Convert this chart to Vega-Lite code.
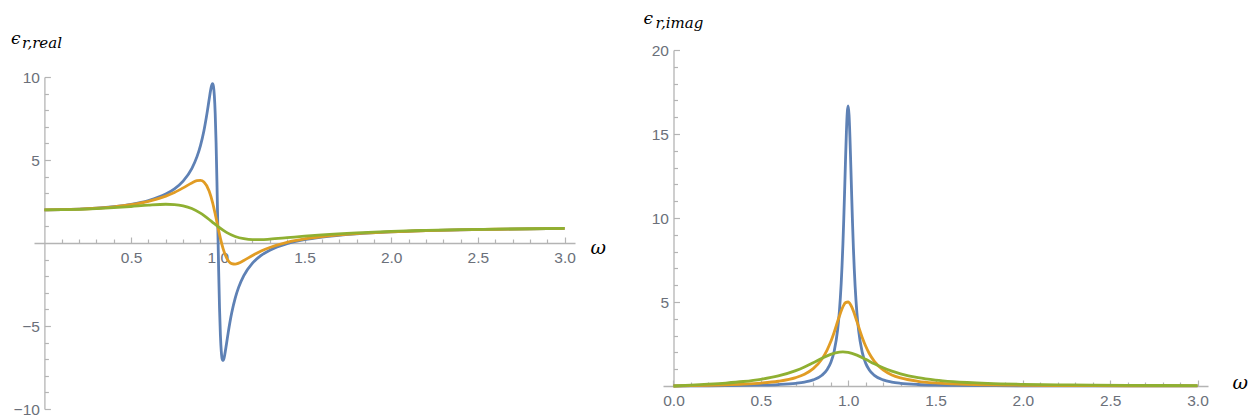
{
  "$schema": "https://vega.github.io/schema/vega-lite/v6.json",
  "background": "white",
  "padding": {"left": 10, "top": 9, "right": 0, "bottom": 0},
  "spacing": 88,
  "bounds": "flush",
  "config": {
    "view": {"stroke": null},
    "axis": {
      "grid": false,
      "domainColor": "#b4b4b4",
      "tickColor": "#b4b4b4",
      "domainWidth": 1.3,
      "tickWidth": 1.2,
      "labelFont": "Liberation Sans",
      "labelFontSize": 15.5,
      "labelColor": "#6b707a",
      "labelFlush": false,
      "labelOverlap": false,
      "titleFont": "DejaVu Serif",
      "titleFontStyle": "italic",
      "titleFontWeight": "normal",
      "titleColor": "#000000"
    }
  },
  "data": {
    "values": [
      {"w": 0, "s": "a", "re": 2, "im": 0},
      {"w": 0.1, "s": "a", "re": 2.0101, "im": 0.0061},
      {"w": 0.2, "s": "a", "re": 2.0415, "im": 0.013},
      {"w": 0.3, "s": "a", "re": 2.0985, "im": 0.0217},
      {"w": 0.4, "s": "a", "re": 2.1895, "im": 0.034},
      {"w": 0.5, "s": "a", "re": 2.3312, "im": 0.0532},
      {"w": 0.6, "s": "a", "re": 2.5576, "im": 0.0876},
      {"w": 0.7, "s": "a", "re": 2.9476, "im": 0.1604},
      {"w": 0.75, "s": "a", "re": 3.2617, "im": 0.2326},
      {"w": 0.8, "s": "a", "re": 3.7293, "im": 0.3639},
      {"w": 0.85, "s": "a", "re": 4.4857, "im": 0.6406},
      {"w": 0.88, "s": "a", "re": 5.2025, "im": 0.9836},
      {"w": 0.9, "s": "a", "re": 5.8698, "im": 1.384},
      {"w": 0.92, "s": "a", "re": 6.7658, "im": 2.0721},
      {"w": 0.94, "s": "a", "re": 7.9576, "im": 3.3712},
      {"w": 0.95, "s": "a", "re": 8.644, "im": 4.4688},
      {"w": 0.96, "s": "a", "re": 9.2837, "im": 6.086},
      {"w": 0.965, "s": "a", "re": 9.5092, "im": 7.1637},
      {"w": 0.97, "s": "a", "re": 9.5926, "im": 8.459},
      {"w": 0.975, "s": "a", "re": 9.4255, "im": 9.9826},
      {"w": 0.98, "s": "a", "re": 8.8797, "im": 11.7},
      {"w": 0.985, "s": "a", "re": 7.7989, "im": 13.495},
      {"w": 0.99, "s": "a", "re": 6.0708, "im": 15.136},
      {"w": 0.995, "s": "a", "re": 3.7227, "im": 16.295},
      {"w": 1.0, "s": "a", "re": 1, "im": 16.667},
      {"w": 1.005, "s": "a", "re": -1.6829, "im": 16.138},
      {"w": 1.01, "s": "a", "re": -3.9308, "im": 14.866},
      {"w": 1.015, "s": "a", "re": -5.5388, "im": 13.175},
      {"w": 1.02, "s": "a", "re": -6.5126, "im": 11.38},
      {"w": 1.025, "s": "a", "re": -6.9784, "im": 9.6924},
      {"w": 1.03, "s": "a", "re": -7.0898, "im": 8.209},
      {"w": 1.035, "s": "a", "re": -6.9765, "im": 6.9546},
      {"w": 1.04, "s": "a", "re": -6.7328, "im": 5.9133},
      {"w": 1.05, "s": "a", "re": -6.0812, "im": 4.3523},
      {"w": 1.06, "s": "a", "re": -5.3969, "im": 3.2916},
      {"w": 1.08, "s": "a", "re": -4.2183, "im": 2.0321},
      {"w": 1.1, "s": "a", "re": -3.3338, "im": 1.3621},
      {"w": 1.12, "s": "a", "re": -2.6745, "im": 0.9706},
      {"w": 1.15, "s": "a", "re": -1.965, "im": 0.6344},
      {"w": 1.2, "s": "a", "re": -1.2135, "im": 0.3622},
      {"w": 1.25, "s": "a", "re": -0.7467, "im": 0.2329},
      {"w": 1.3, "s": "a", "re": -0.431, "im": 0.1618},
      {"w": 1.4, "s": "a", "re": -0.0338, "im": 0.0905},
      {"w": 1.5, "s": "a", "re": 0.2041, "im": 0.0573},
      {"w": 1.6, "s": "a", "re": 0.3614, "im": 0.0393},
      {"w": 1.8, "s": "a", "re": 0.5546, "im": 0.0215},
      {"w": 2.0, "s": "a", "re": 0.6672, "im": 0.0133},
      {"w": 2.2, "s": "a", "re": 0.7399, "im": 0.0089},
      {"w": 2.4, "s": "a", "re": 0.7901, "im": 0.0063},
      {"w": 2.6, "s": "a", "re": 0.8265, "im": 0.0047},
      {"w": 2.8, "s": "a", "re": 0.8539, "im": 0.0036},
      {"w": 3.0, "s": "a", "re": 0.8751, "im": 0.0028},

      {"w": 0, "s": "b", "re": 2, "im": 0},
      {"w": 0.1, "s": "b", "re": 2.0097, "im": 0.0204},
      {"w": 0.2, "s": "b", "re": 2.0399, "im": 0.0433},
      {"w": 0.3, "s": "b", "re": 2.0942, "im": 0.0721},
      {"w": 0.4, "s": "b", "re": 2.1798, "im": 0.1124},
      {"w": 0.5, "s": "b", "re": 2.31, "im": 0.1747},
      {"w": 0.6, "s": "b", "re": 2.5094, "im": 0.283},
      {"w": 0.7, "s": "b", "re": 2.8234, "im": 0.5005},
      {"w": 0.75, "s": "b", "re": 3.0453, "im": 0.7012},
      {"w": 0.8, "s": "b", "re": 3.3196, "im": 1.0309},
      {"w": 0.85, "s": "b", "re": 3.6202, "im": 1.6051},
      {"w": 0.88, "s": "b", "re": 3.7556, "im": 2.1497},
      {"w": 0.9, "s": "b", "re": 3.7737, "im": 2.6277},
      {"w": 0.92, "s": "b", "re": 3.6737, "im": 3.2029},
      {"w": 0.95, "s": "b", "re": 3.1379, "im": 4.1661},
      {"w": 0.97, "s": "b", "re": 2.437, "im": 4.7169},
      {"w": 0.985, "s": "b", "re": 1.7501, "im": 4.9628},
      {"w": 1.0, "s": "b", "re": 1, "im": 5},
      {"w": 1.015, "s": "b", "re": 0.2824, "im": 4.8193},
      {"w": 1.03, "s": "b", "re": -0.3198, "im": 4.4642},
      {"w": 1.05, "s": "b", "re": -0.8771, "im": 3.8457},
      {"w": 1.08, "s": "b", "re": -1.2382, "im": 2.9054},
      {"w": 1.1, "s": "b", "re": -1.2703, "im": 2.3784},
      {"w": 1.12, "s": "b", "re": -1.2142, "im": 1.9496},
      {"w": 1.15, "s": "b", "re": -1.0553, "im": 1.4658},
      {"w": 1.2, "s": "b", "re": -0.7516, "im": 0.9554},
      {"w": 1.25, "s": "b", "re": -0.4845, "im": 0.6598},
      {"w": 1.3, "s": "b", "re": -0.2691, "im": 0.4782},
      {"w": 1.4, "s": "b", "re": 0.04, "im": 0.28},
      {"w": 1.5, "s": "b", "re": 0.2436, "im": 0.1815},
      {"w": 1.6, "s": "b", "re": 0.3849, "im": 0.1262},
      {"w": 1.8, "s": "b", "re": 0.5648, "im": 0.0699},
      {"w": 2.0, "s": "b", "re": 0.6725, "im": 0.0437},
      {"w": 2.2, "s": "b", "re": 0.743, "im": 0.0295},
      {"w": 2.4, "s": "b", "re": 0.792, "im": 0.021},
      {"w": 2.6, "s": "b", "re": 0.8278, "im": 0.0155},
      {"w": 2.8, "s": "b", "re": 0.8548, "im": 0.0119},
      {"w": 3.0, "s": "b", "re": 0.8757, "im": 0.0093},

      {"w": 0, "s": "c", "re": 2, "im": 0},
      {"w": 0.1, "s": "c", "re": 2.0075, "im": 0.0509},
      {"w": 0.2, "s": "c", "re": 2.0305, "im": 0.1073},
      {"w": 0.3, "s": "c", "re": 2.0698, "im": 0.1763},
      {"w": 0.4, "s": "c", "re": 2.1266, "im": 0.2682},
      {"w": 0.5, "s": "c", "re": 2.2, "im": 0.4},
      {"w": 0.6, "s": "c", "re": 2.281, "im": 0.6005},
      {"w": 0.7, "s": "c", "re": 2.333, "im": 0.9148},
      {"w": 0.75, "s": "c", "re": 2.3177, "im": 1.1294},
      {"w": 0.8, "s": "c", "re": 2.2431, "im": 1.3812},
      {"w": 0.85, "s": "c", "re": 2.0771, "im": 1.6496},
      {"w": 0.9, "s": "c", "re": 1.7963, "im": 1.886},
      {"w": 0.95, "s": "c", "re": 1.4147, "im": 2.0202},
      {"w": 0.97, "s": "c", "re": 1.2476, "im": 2.0317},
      {"w": 1.0, "s": "c", "re": 1, "im": 2},
      {"w": 1.05, "s": "c", "re": 0.6418, "im": 1.8348},
      {"w": 1.1, "s": "c", "re": 0.3941, "im": 1.5869},
      {"w": 1.15, "s": "c", "re": 0.258, "im": 1.3229},
      {"w": 1.2, "s": "c", "re": 0.2052, "im": 1.0838},
      {"w": 1.25, "s": "c", "re": 0.2044, "im": 0.884},
      {"w": 1.3, "s": "c", "re": 0.2321, "im": 0.7233},
      {"w": 1.4, "s": "c", "re": 0.3199, "im": 0.4959},
      {"w": 1.5, "s": "c", "re": 0.4118, "im": 0.3529},
      {"w": 1.6, "s": "c", "re": 0.4924, "im": 0.2603},
      {"w": 1.8, "s": "c", "re": 0.6156, "im": 0.1544},
      {"w": 2.0, "s": "c", "re": 0.7, "im": 0.1},
      {"w": 2.2, "s": "c", "re": 0.7593, "im": 0.0689},
      {"w": 2.4, "s": "c", "re": 0.8025, "im": 0.0498},
      {"w": 2.6, "s": "c", "re": 0.8348, "im": 0.0373},
      {"w": 2.8, "s": "c", "re": 0.8597, "im": 0.0287},
      {"w": 3.0, "s": "c", "re": 0.8792, "im": 0.0226}
    ]
  },
  "hconcat": [
    {
      "width": 541,
      "height": 359,
      "layer": [
        {
          "mark": {"type": "line", "strokeWidth": 2.8, "interpolate": "monotone"},
          "encoding": {
            "x": {
              "field": "w", "type": "quantitative",
              "scale": {"domain": [-0.06, 3.06], "nice": false, "zero": false},
              "axis": {
                "orient": "bottom", "offset": -166,
                "values": [0.5, 1, 1.5, 2, 2.5, 3], "format": ".1f",
                "tickSize": -6, "labelPadding": 13,
                "title": "ω", "titleX": 556, "titleY": 10, "titleAlign": "left",
                "titleBaseline": "alphabetic", "titleFontSize": 19
              }
            },
            "y": {
              "field": "re", "type": "quantitative",
              "scale": {"domain": [-10, 10], "range": [359, 27], "nice": false, "zero": false},
              "axis": {
                "orient": "left", "offset": -10.4,
                "values": [-10, -5, 5, 10],
                "tickSize": -6, "labelPadding": 11,
                "title": "ϵ", "titleAngle": 0, "titleX": -34, "titleY": -6.5,
                "titleAlign": "left", "titleBaseline": "alphabetic", "titleFontSize": 17
              }
            },
            "color": {
              "field": "s", "type": "nominal",
              "scale": {"domain": ["a", "b", "c"], "range": ["#5E81B5", "#E19C24", "#8FB032"]},
              "legend": null
            }
          }
        },
        {
          "mark": {"type": "point", "opacity": 0},
          "encoding": {
            "x": {
              "field": "w", "type": "quantitative",
              "axis": {
                "orient": "bottom", "offset": -166,
                "values": [0.1, 0.2, 0.3, 0.4, 0.6, 0.7, 0.8, 0.9, 1.1, 1.2, 1.3, 1.4, 1.6, 1.7, 1.8, 1.9, 2.1, 2.2, 2.3, 2.4, 2.6, 2.7, 2.8, 2.9],
                "tickSize": -4, "labels": false, "domain": false, "title": null
              }
            },
            "y": {
              "field": "re", "type": "quantitative",
              "axis": {
                "orient": "left", "offset": -10.4,
                "values": [-9, -8, -7, -6, -4, -3, -2, -1, 1, 2, 3, 4, 6, 7, 8, 9],
                "tickSize": -4, "labels": false, "domain": false,
                "title": "r,real", "titleAngle": 0, "titleX": -23, "titleY": -3,
                "titleAlign": "left", "titleBaseline": "alphabetic", "titleFontSize": 15
              }
            }
          }
        }
      ],
      "resolve": {"axis": {"x": "independent", "y": "independent"}}
    },
    {
      "width": 545,
      "height": 336,
      "layer": [
        {
          "mark": {"type": "line", "strokeWidth": 2.8, "interpolate": "monotone"},
          "encoding": {
            "x": {
              "field": "w", "type": "quantitative",
              "scale": {"domain": [-0.06, 3.06], "nice": false, "zero": false},
              "axis": {
                "orient": "bottom", "offset": 0,
                "values": [0, 0.5, 1, 1.5, 2, 2.5, 3], "format": ".1f",
                "tickSize": -6, "labelPadding": 13,
                "title": "ω", "titleX": 569, "titleY": 2, "titleAlign": "left",
                "titleBaseline": "alphabetic", "titleFontSize": 19
              }
            },
            "y": {
              "field": "im", "type": "quantitative",
              "scale": {"domain": [0, 20], "nice": false, "zero": false},
              "axis": {
                "orient": "left", "offset": -10.5,
                "values": [5, 10, 15, 20],
                "tickSize": -6, "labelPadding": 11,
                "title": "ϵ", "titleAngle": 0, "titleX": -30.5, "titleY": -27,
                "titleAlign": "left", "titleBaseline": "alphabetic", "titleFontSize": 17
              }
            },
            "color": {
              "field": "s", "type": "nominal",
              "scale": {"domain": ["a", "b", "c"], "range": ["#5E81B5", "#E19C24", "#8FB032"]},
              "legend": null
            }
          }
        },
        {
          "mark": {"type": "point", "opacity": 0},
          "encoding": {
            "x": {
              "field": "w", "type": "quantitative",
              "axis": {
                "orient": "bottom", "offset": 0,
                "values": [0.1, 0.2, 0.3, 0.4, 0.6, 0.7, 0.8, 0.9, 1.1, 1.2, 1.3, 1.4, 1.6, 1.7, 1.8, 1.9, 2.1, 2.2, 2.3, 2.4, 2.6, 2.7, 2.8, 2.9],
                "tickSize": -4, "labels": false, "domain": false, "title": null
              }
            },
            "y": {
              "field": "im", "type": "quantitative",
              "axis": {
                "orient": "left", "offset": -10.5,
                "values": [1, 2, 3, 4, 6, 7, 8, 9, 11, 12, 13, 14, 16, 17, 18, 19],
                "tickSize": -4, "labels": false, "domain": false,
                "title": "r,imag", "titleAngle": 0, "titleX": -18.5, "titleY": -23,
                "titleAlign": "left", "titleBaseline": "alphabetic", "titleFontSize": 15
              }
            }
          }
        }
      ],
      "resolve": {"axis": {"x": "independent", "y": "independent"}}
    }
  ]
}
